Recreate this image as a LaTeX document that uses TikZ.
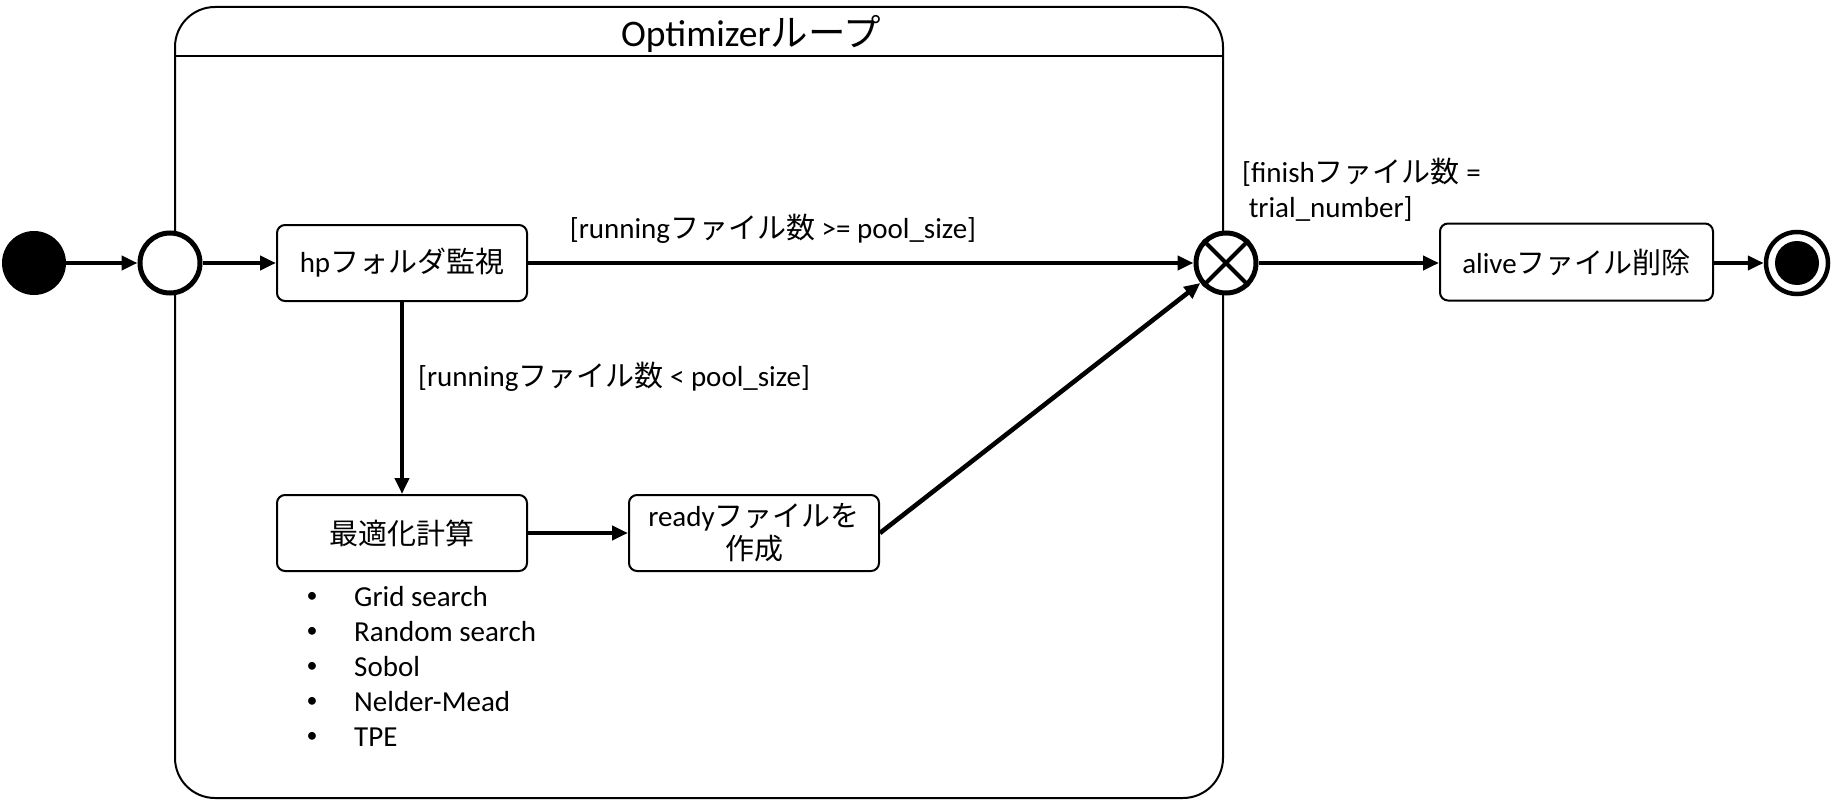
\documentclass[tikz,border=0pt]{standalone}
\usepackage{fontspec}
\setmainfont{Carlito}
\newfontfamily\jp{Noto Sans CJK JP}
\usetikzlibrary{arrows.meta}
\newcommand\fsz{\fontsize{29}{35}\selectfont}
\newcommand\fttl{\fontsize{37.5}{42}\selectfont}
\newcommand\fbul{\fontsize{22}{35}\selectfont}
\begin{document}
\begin{tikzpicture}[x=1pt,y=-1pt,
  box/.style={draw, line width=2pt, rounded corners=8pt, minimum width=250pt, minimum height=76pt, font=\fsz, align=center, inner sep=2pt},
  conn/.style={line width=4.6pt, -{Triangle[length=16pt,width=14pt]}},
  ring/.style={circle, draw, line width=5pt, minimum size=60pt, inner sep=0pt, fill=white},
  lbl/.style={font=\fsz, inner sep=0pt, align=left},
]
\useasboundingbox (0,0) rectangle (1832,800);
% container
\draw[line width=2pt, rounded corners=40pt] (175,7) rectangle (1223,798);
\coordinate (hl) at (175,56);
\coordinate (hr) at (1223,56);
\draw[line width=1.2pt] (hl) -- (hr);
\node[font=\fttl, inner sep=0pt] (title) at (751,34) {Optimizer{\jp ループ}};
% nodes
\node[circle, fill=black, minimum size=64pt, inner sep=0pt] (init) at (34,263) {};
\node[ring] (fork) at (170,263) {};
\node[box] (hp) at (402,263) {hp{\jp フォルダ監視}};
\node[box] (opt) at (402,533) {{\jp 最適化計算}};
\node[box] (ready) at (754,533) {ready{\jp ファイルを}\\[-2pt]{\jp 作成}};
\node[ring] (xg) at (1226,263) {};
\draw[line width=4pt] (xg.north east) -- (xg.south west) (xg.north west) -- (xg.south east);
\node[box, minimum width=273pt, minimum height=77pt] (alive) at (1576.5,262) {alive{\jp ファイル削除}};
\node[circle, draw, line width=4.5pt, minimum size=62pt, inner sep=0pt] (fin) at (1797,263) {};
\node[circle, fill=black, minimum size=44pt, inner sep=0pt] (finin) at (fin) {};
% labels
\node[lbl] (l1) at (773,229) {[running{\jp ファイル数} >= pool\_size]};
\node[lbl, anchor=west] (l2) at (418,377) {[running{\jp ファイル数} < pool\_size]};
\node[lbl, anchor=west] (l3) at (1242,190) {[finish{\jp ファイル数} =\\\ trial\_number]};
% bullets
\foreach \t [count=\i] in {Grid search, Random search, Sobol, Nelder-Mead, TPE}{
  \node[lbl, font=\fbul] (b\i) at (312,562+35*\i) {\textbullet};
  \node[lbl, anchor=west] (t\i) at (354,562+35*\i) {\t};
}
% connectors
\draw[conn] (init) -- (fork);
\draw[conn] (fork) -- (hp);
\draw[conn] (hp.east) -- (xg.west);
\draw[conn] (hp.south) -- (opt.north);
\draw[conn] (opt.east) -- (ready.west);
\draw[conn] (ready.east) -- (xg);
\draw[conn] (xg.east) -- (xg.east -| alive.west);
\draw[conn] (alive.east |- fin.west) -- (fin.west);
\end{tikzpicture}
\end{document}
